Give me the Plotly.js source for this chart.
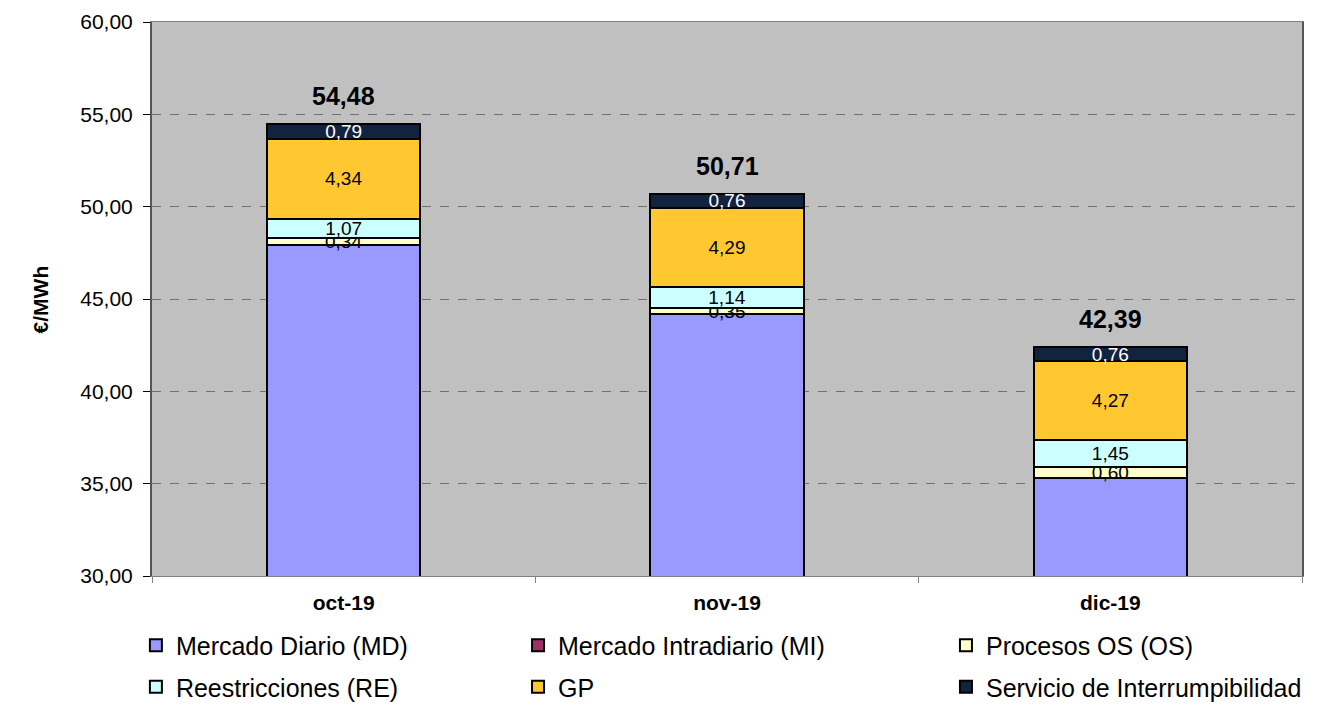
<!DOCTYPE html>
<html><head><meta charset="utf-8">
<script src="https://cdn.plot.ly/plotly-3.0.1.min.js"></script>
<style>body{margin:0;background:#fff}#c{width:1337px;height:704px}</style>
</head><body><div id="c"></div>
<script>
const months = ['oct-19', 'nov-19', 'dic-19'];
const seriesNames = ['Mercado Diario (MD)', 'Mercado Intradiario (MI)', 'Procesos OS (OS)', 'Reestricciones (RE)', 'GP', 'Servicio de Interrumpibilidad'];
const md = [47.94, 44.17, 35.32];
const mi = [0, 0, 0];
const os = [0.34, 0.35, 0.60];
const re = [1.07, 1.14, 1.45];
const gp = [4.34, 4.29, 4.27];
const si = [0.79, 0.76, 0.76];
const totals = [54.48, 50.71, 42.39];
const colors = ['#9999FF', '#993366', '#FFFFCC', '#CCFFFF', '#FFC830', '#12233F'];
const textColors = ['#000', '#000', '#000', '#000', '#000', '#fff'];
const FONT = 'Liberation Sans, Arial';
const legendIds = ['legend', 'legend2', 'legend3', 'legend', 'legend2', 'legend3'];

const allSeries = [md, mi, os, re, gp, si];
const traces = allSeries.map((vals, i) => ({
  type: 'bar', name: seriesNames[i], x: months, y: vals,
  legend: legendIds[i], legendgroup: 'g' + i,
  marker: {color: colors[i], line: {color: '#000', width: 2}},
  text: vals.map(v => v > 0 ? v.toFixed(2).replace('.', ',') : ''),
  textposition: 'inside', insidetextanchor: 'middle', constraintext: 'none',
  textfont: {family: FONT, size: 19, color: textColors[i]},
  hoverinfo: 'skip'
}));
const annotations = months.map((m, j) => ({
  x: m, y: totals[j], text: '<b>' + totals[j].toFixed(2).replace('.', ',') + '</b>',
  showarrow: false, yanchor: 'bottom', yshift: 12,
  font: {family: FONT, size: 25, color: '#000'}
}));
annotations.push({
  xref: 'paper', yref: 'paper', x: -0.097, xanchor: 'center', y: 0.5, textangle: -90,
  text: '<b>€/MWh</b>', showarrow: false,
  font: {family: FONT, size: 21, color: '#000'}
});
function mkLegend(x) {
  return {orientation: 'v', x: x, xanchor: 'left', y: -0.084, yanchor: 'top',
    traceorder: 'grouped', tracegroupgap: 6, bgcolor: 'rgba(0,0,0,0)',
    font: {family: FONT, size: 25, color: '#000'}, itemwidth: 30};
}
const layout = {
  width: 1337, height: 704,
  margin: {l: 152, r: 35, t: 22, b: 128, autoexpand: false},
  barmode: 'stack', bargap: 0.6,
  separators: ',.',
  paper_bgcolor: '#fff', plot_bgcolor: '#C0C0C0',
  font: {family: FONT, color: '#000'},
  showlegend: true,
  legend: mkLegend(-0.014),
  legend2: mkLegend(0.3183),
  legend3: mkLegend(0.6904),
  xaxis: {type: 'category', tickson: 'boundaries', ticks: 'outside', ticklen: 6, tickcolor: '#808080',
    ticklabelstandoff: 8,
    showline: true, linecolor: '#808080', linewidth: 1, mirror: true,
    tickfont: {family: FONT, size: 21, weight: 'bold', color: '#000'}},
  yaxis: {range: [30, 60], dtick: 5, tickformat: '.2f', ticks: 'outside', ticklen: 7, tickcolor: '#000',
    ticklabelstandoff: 6,
    showline: true, linecolor: '#555', linewidth: 2, mirror: true,
    gridcolor: '#707070', griddash: 'dash', gridwidth: 1,
    tickfont: {family: FONT, size: 21, color: '#000'}},
  annotations: annotations
};
Plotly.newPlot('c', traces, layout, {displayModeBar: false, staticPlot: true});
</script></body></html>
